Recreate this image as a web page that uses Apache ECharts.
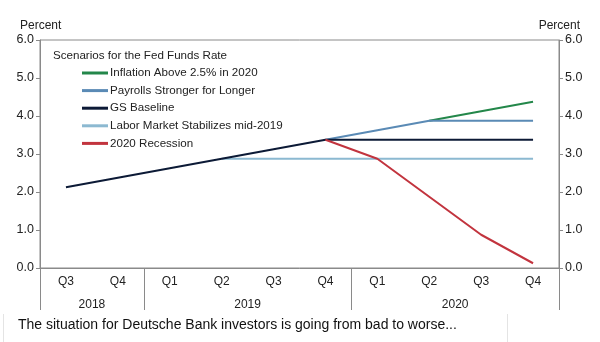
<!DOCTYPE html>
<html><head><meta charset="utf-8">
<script src="https://cdn.jsdelivr.net/npm/echarts@6/dist/echarts.min.js"></script>
<style>html,body{margin:0;padding:0;background:#fff}#c{width:600px;height:342px}</style>
</head><body><div id="c"></div>
<script>
const quarters = ['Q3','Q4','Q1','Q2','Q3','Q4','Q1','Q2','Q3','Q4'];
const years = ['2018','2019','2020'];
const yearQuarterCounts = [2,4,4];
const yTicks = [0,1,2,3,4,5,6];
const inflation = [null,null,null,null,null,null,null,3.875,4.125,4.375];
const payrolls  = [null,null,null,null,null,3.375,3.625,3.875,3.875,3.875];
const baseline  = [2.125,2.375,2.625,2.875,3.125,3.375,3.375,3.375,3.375,3.375];
const labor     = [null,null,null,2.875,2.875,2.875,2.875,2.875,2.875,2.875];
const recession = [null,null,null,null,null,3.375,2.875,1.875,0.875,0.125];
const seriesNames = ['Inflation Above 2.5% in 2020','Payrolls Stronger for Longer','GS Baseline','Labor Market Stabilizes mid-2019','2020 Recession'];
const colors = ['#23874a','#5a8ab5','#0c1a36','#8cb9d1','#c2343e'];

// year axis built on quarter boundaries (11 points)
const yearAxisData = new Array(11).fill('');
const yearBoundaries = [0];
let pos = 0;
years.forEach((y,i)=>{ yearAxisData[pos + yearQuarterCounts[i]/2] = y; pos += yearQuarterCounts[i]; yearBoundaries.push(pos); });

const font = 'Liberation Sans, Arial, sans-serif';
const txt = '#222';
const axisGray = '#8a8a8a';
const chart = echarts.init(document.getElementById('c'));
const data = [inflation,payrolls,baseline,labor,recession];
chart.setOption({
  animation:false,
  textStyle:{fontFamily:font},
  grid:{left:40,right:41,top:40,bottom:74,show:true,borderColor:axisGray,borderWidth:1},
  title:{text:'Scenarios for the Fed Funds Rate',left:53,top:50,padding:0,textStyle:{fontSize:11.6,fontWeight:'normal',color:txt,fontFamily:font}},
  legend:{orient:'vertical',left:82,top:67,padding:0,itemWidth:26,itemHeight:3,itemGap:5.6,icon:'rect',
    textStyle:{fontSize:11.6,color:txt,fontFamily:font,padding:[0,0,0,-3]},data:seriesNames},
  xAxis:[
    {type:'category',data:quarters,boundaryGap:true,position:'bottom',
     axisLine:{lineStyle:{color:axisGray}},axisTick:{length:22,lineStyle:{color:axisGray}},
     axisLabel:{color:txt,fontSize:12,margin:8,interval:0}},
    {type:'category',data:yearAxisData,boundaryGap:false,position:'bottom',
     axisLine:{show:false},
     axisTick:{length:42,interval:(i)=>yearBoundaries.includes(i),lineStyle:{color:axisGray}},
     axisLabel:{color:txt,fontSize:12,margin:31,interval:0}}
  ],
  yAxis:[
    {type:'value',min:0,max:6,interval:1,position:'left',name:'Percent',nameLocation:'end',nameGap:8,
     nameTextStyle:{color:txt,fontSize:12,align:'left',padding:[0,0,0,-20]},
     axisLine:{show:true,lineStyle:{color:axisGray}},axisTick:{show:true,length:4,lineStyle:{color:axisGray}},
     splitLine:{show:false},axisLabel:{color:txt,fontSize:12.5,margin:6,formatter:v=>v.toFixed(1)}},
    {type:'value',min:0,max:6,interval:1,position:'right',name:'Percent',nameLocation:'end',nameGap:8,
     nameTextStyle:{color:txt,fontSize:12,align:'right',padding:[0,-21,0,0]},
     axisLine:{show:true,lineStyle:{color:axisGray}},axisTick:{show:true,length:4,lineStyle:{color:axisGray}},
     splitLine:{show:false},axisLabel:{color:txt,fontSize:12.5,margin:6,formatter:v=>v.toFixed(1)}}
  ],
  series: seriesNames.map((n,i)=>({name:n,type:'line',data:data[i],symbol:'none',
    lineStyle:{width:2,color:colors[i]},itemStyle:{color:colors[i]},z:[1,2,4,3,5][i]})),
  graphic:[
    {type:'text',left:18,top:318,style:{text:'The situation for Deutsche Bank investors is going from bad to worse...',fontSize:14,fill:'#111',fontFamily:font}},
    {type:'line',shape:{x1:3.5,y1:314,x2:3.5,y2:342},style:{stroke:'#e4e4e4',lineWidth:1}},
    {type:'line',shape:{x1:507.5,y1:314,x2:507.5,y2:342},style:{stroke:'#e4e4e4',lineWidth:1}}
  ]
});
</script></body></html>
